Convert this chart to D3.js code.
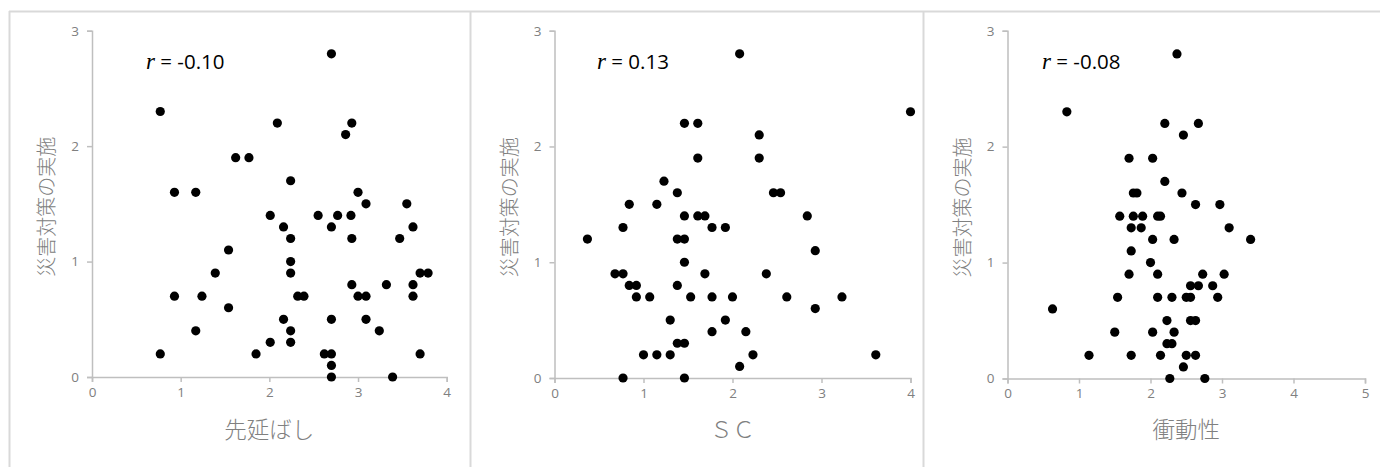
<!DOCTYPE html>
<html>
<head>
<meta charset="utf-8">
<script src="https://cdn.jsdelivr.net/npm/d3@7"></script>
<style>
  body { margin: 0; background: #fff; }
  svg { display: block; }
</style>
</head>
<body>
<div id="chart"></div>
<script>
// 先延ばし vs 災害対策の実施
const procX = [0.77, 2.70, 2.09, 2.93, 2.86, 1.62, 1.77, 2.24, 0.93, 1.17, 3.00, 3.09, 3.55, 2.01, 2.55, 2.77, 2.92, 2.16, 2.70, 3.62,
  2.24, 2.93, 3.47, 1.54, 2.24, 1.39, 2.24, 3.70, 3.79, 2.93, 3.32, 3.62, 0.93, 1.24, 2.32, 2.39, 3.00, 3.09, 3.62, 1.54,
  2.16, 2.70, 3.09, 1.17, 2.24, 3.24, 2.01, 2.24, 0.77, 1.85, 2.62, 2.70, 3.70, 2.70, 2.70, 3.39];
const procY = [2.3, 2.8, 2.2, 2.2, 2.1, 1.9, 1.9, 1.7, 1.6, 1.6, 1.6, 1.5, 1.5, 1.4, 1.4, 1.4, 1.4, 1.3, 1.3, 1.3,
  1.2, 1.2, 1.2, 1.1, 1.0, 0.9, 0.9, 0.9, 0.9, 0.8, 0.8, 0.8, 0.7, 0.7, 0.7, 0.7, 0.7, 0.7, 0.7, 0.6,
  0.5, 0.5, 0.5, 0.4, 0.4, 0.4, 0.3, 0.3, 0.2, 0.2, 0.2, 0.2, 0.2, 0.1, 0.0, 0.0];

// ＳＣ vs 災害対策の実施
const scX = [2.08, 4.00, 1.46, 1.61, 2.30, 1.61, 2.30, 1.23, 1.38, 2.46, 2.54, 0.84, 1.15, 1.46, 1.61, 1.69, 2.84, 0.77, 1.77, 1.92,
  0.37, 1.38, 1.46, 2.93, 1.46, 0.68, 0.77, 1.69, 2.38, 0.84, 0.92, 1.38, 0.92, 1.07, 1.53, 1.77, 2.00, 2.61, 3.23, 2.93,
  1.30, 1.92, 1.77, 2.15, 1.38, 1.46, 1.00, 1.15, 1.30, 2.23, 3.61, 2.08, 0.77, 1.46];
const scY = [2.8, 2.3, 2.2, 2.2, 2.1, 1.9, 1.9, 1.7, 1.6, 1.6, 1.6, 1.5, 1.5, 1.4, 1.4, 1.4, 1.4, 1.3, 1.3, 1.3,
  1.2, 1.2, 1.2, 1.1, 1.0, 0.9, 0.9, 0.9, 0.9, 0.8, 0.8, 0.8, 0.7, 0.7, 0.7, 0.7, 0.7, 0.7, 0.7, 0.6,
  0.5, 0.5, 0.4, 0.4, 0.3, 0.3, 0.2, 0.2, 0.2, 0.2, 0.2, 0.1, 0.0, 0.0];

// 衝動性 vs 災害対策の実施
const impX = [2.37, 0.83, 2.20, 2.67, 2.46, 1.70, 2.03, 2.20, 1.76, 1.81, 2.44, 2.63, 2.97, 1.57, 1.76, 1.89, 2.10, 2.14, 1.73, 1.87,
  3.10, 2.03, 2.33, 3.40, 1.73, 2.00, 1.70, 2.10, 2.73, 3.03, 2.56, 2.67, 2.87, 1.54, 2.10, 2.30, 2.50, 2.56, 2.94, 0.63,
  2.23, 2.56, 2.63, 1.50, 2.03, 2.33, 2.23, 2.30, 1.14, 1.73, 2.14, 2.50, 2.63, 2.46, 2.27, 2.76];
const impY = [2.8, 2.3, 2.2, 2.2, 2.1, 1.9, 1.9, 1.7, 1.6, 1.6, 1.6, 1.5, 1.5, 1.4, 1.4, 1.4, 1.4, 1.4, 1.3, 1.3,
  1.3, 1.2, 1.2, 1.2, 1.1, 1.0, 0.9, 0.9, 0.9, 0.9, 0.8, 0.8, 0.8, 0.7, 0.7, 0.7, 0.7, 0.7, 0.7, 0.6,
  0.5, 0.5, 0.5, 0.4, 0.4, 0.4, 0.3, 0.3, 0.2, 0.2, 0.2, 0.2, 0.2, 0.1, 0.0, 0.0];

const xTitles = ["先延ばし", "ＳＣ", "衝動性"];
const rTexts = [" = -0.10", " = 0.13", " = -0.08"];
const xMaxes = [4, 4, 5];
const yTitle = "災害対策の実施";

const width = 1380, height = 467;
const gray = "#808080", axisColor = "#bfbfbf", frameColor = "#d9d9d9";

// pixel placement of each panel's plot area
const panels = [
  { xs: procX, ys: procY, left: 92,   right: 446.7, top: 30.7, bottom: 377, rx: 146 },
  { xs: scX,   ys: scY,   left: 554.5, right: 910.5, top: 30.7, bottom: 378, rx: 597 },
  { xs: impX,  ys: impY,  left: 1007.5, right: 1365, top: 30.7, bottom: 378.5, rx: 1042 }
];

const svg = d3.select("#chart").append("svg")
  .attr("width", width)
  .attr("height", height)
  .attr("viewBox", [0, 0, width, height]);

// outer frame lines
const frame = svg.append("g").attr("stroke", frameColor).attr("stroke-width", 2);
frame.append("line").attr("x1", 9).attr("x2", width).attr("y1", 11.5).attr("y2", 11.5);
[9.5, 470.5, 923.5].forEach(x => {
  frame.append("line").attr("x1", x).attr("x2", x).attr("y1", 11).attr("y2", height);
});

panels.forEach((p, i) => {
  const x = d3.scaleLinear().domain([0, xMaxes[i]]).range([p.left, p.right]);
  const y = d3.scaleLinear().domain([0, 3]).range([p.bottom, p.top]);
  const g = svg.append("g");

  const xAxis = g.append("g")
    .attr("transform", `translate(0,${p.bottom})`)
    .call(d3.axisBottom(x).ticks(xMaxes[i]).tickSize(5).tickPadding(5).tickFormat(d3.format("d")));
  const yAxis = g.append("g")
    .attr("transform", `translate(${p.left},0)`)
    .call(d3.axisLeft(y).ticks(3).tickSize(5).tickPadding(8).tickFormat(d3.format("d")));

  [xAxis, yAxis].forEach(a => {
    a.select(".domain").attr("stroke", axisColor).attr("stroke-width", 1.5);
    a.selectAll(".tick line").attr("stroke", axisColor).attr("stroke-width", 1.5);
    a.selectAll(".tick text")
      .attr("fill", gray)
      .attr("font-family", "'Open Sans', 'Noto Sans', sans-serif")
      .attr("font-size", 13.5);
  });

  g.append("g")
    .selectAll("circle")
    .data(d3.range(p.xs.length))
    .join("circle")
      .attr("cx", j => x(p.xs[j]))
      .attr("cy", j => y(p.ys[j]))
      .attr("r", 4.6)
      .attr("fill", "#000");

  // r label
  const rt = g.append("text")
    .attr("x", p.rx)
    .attr("y", 69)
    .attr("font-size", 20.5)
    .attr("fill", "#000");
  rt.append("tspan")
    .attr("font-family", "'Liberation Serif', 'DejaVu Serif', serif")
    .attr("font-style", "italic")
    .attr("font-size", 23)
    .text("r");
  rt.append("tspan")
    .attr("font-family", "'Open Sans', 'Noto Sans', sans-serif")
    .text(rTexts[i]);

  // x title
  g.append("text")
    .attr("x", (p.left + p.right) / 2)
    .attr("y", 438)
    .attr("text-anchor", "middle")
    .attr("fill", gray)
    .attr("font-family", "'Noto Sans CJK JP', sans-serif")
    .attr("font-weight", 300)
    .attr("font-size", 22.5)
    .text(xTitles[i]);

  // y title
  g.append("text")
    .attr("transform", `translate(${p.left - 38},${(p.top + p.bottom) / 2 + 3}) rotate(-90)`)
    .attr("text-anchor", "middle")
    .attr("fill", gray)
    .attr("font-family", "'Noto Sans CJK JP', sans-serif")
    .attr("font-weight", 300)
    .attr("font-size", 20)
    .text(yTitle);
});
</script>
</body>
</html>
